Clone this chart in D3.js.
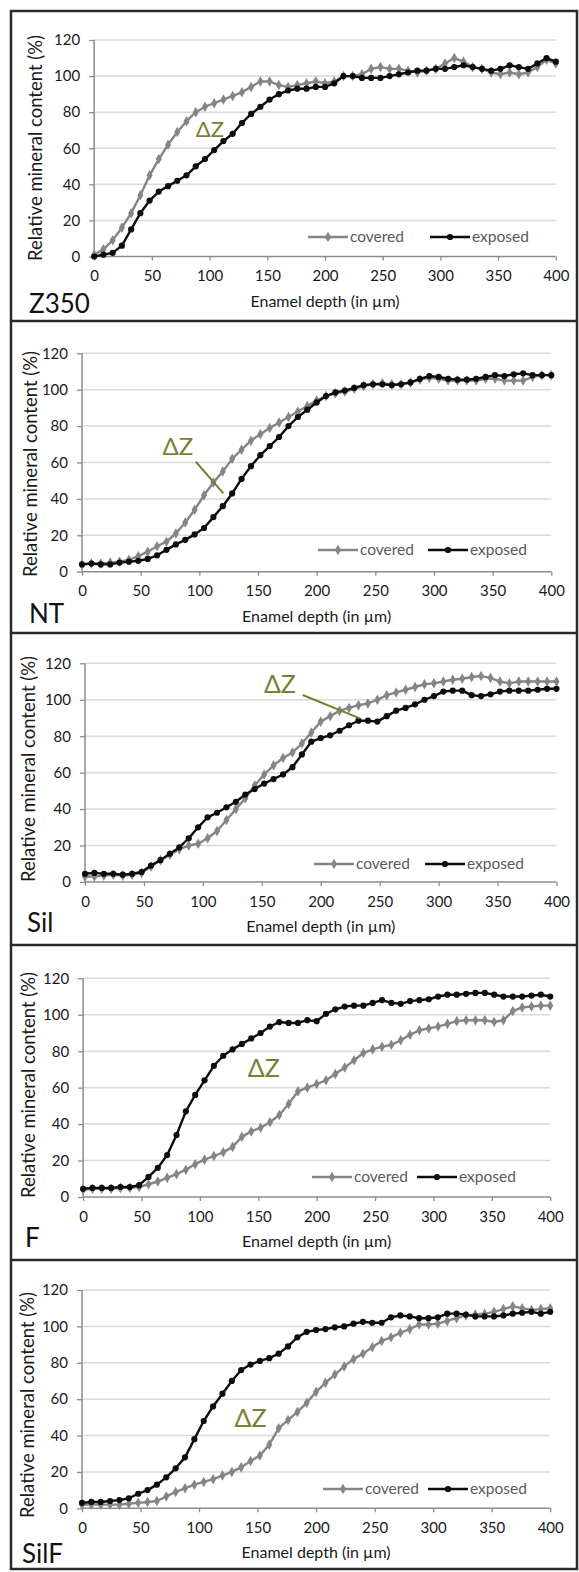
<!DOCTYPE html>
<html><head><meta charset="utf-8">
<script src="https://cdn.jsdelivr.net/npm/d3@7/dist/d3.min.js"></script>
<style>
body{margin:0;background:#fff}
svg{display:block}
text{font-family:Lato,"Open Sans",sans-serif}
</style>
</head><body>
<svg id="chart" width="579" height="1572"></svg>
<script>
// ---------- data ----------
const depth = [0,8,16,24,32,40,48,56,64,72,80,88,96,104,112,120,128,136,144,152,160,168,176,184,192,200,208,216,224,232,240,248,256,264,272,280,288,296,304,312,320,328,336,344,352,360,368,376,384,392,400];
const panelNames = ["Z350","NT","Sil","F","SilF"];
const seriesNames = ["covered","exposed"];
const xTicks = [0,50,100,150,200,250,300,350,400];
const yTicks = [0,20,40,60,80,100,120];
const xTitle = "Enamel depth (in µm)";
const yTitle = "Relative mineral content (%)";
const annotationText = "ΔZ";

const z350Covered = [1,4,9,16,24,34,45,54,62,69,75,80,83,85,87,89,91,94,97,97,95,94,95,96,97,96,97,100,100,101,104,105,104,104,103,102,103,104,107,110,108,105,104,102,101,102,101,102,105,109,107];
const z350Exposed = [0,1,2,6,15,24,31,36,39,42,45,50,54,59,64,68,74,79,83,87,90,92,93,93,94,94,96,100,100,99,99,99,100,101,102,103,103,104,104,105,106,105,104,103,104,106,105,104,107,110,108];

const ntCovered = [4,4.5,4.5,5,5.5,6.5,8.5,11,14,16.5,21,27,34,42,49,55,62,67,72,75.5,79,82,85,88,91,94,96.5,98,99,100.5,102,103,103.5,103,103,104,105.5,106.5,106,105,105,105,105,106,106,105,105,105,107,108,108];
const ntExposed = [4,4.5,4,4,5,5.5,6,7,9,12,15,17.5,20.5,24,30,36,43,51,58,64,69,74,80,85,89,93,96.5,98.5,99.5,101,102.5,103,103,102.5,103,104,106,107.5,107,106,105.5,105.5,106,107,108,107.5,108.5,109,108,108,108];

const silCovered = [3,3,3.5,4,3.5,4,5,8.5,12,15,18,20,21,24,28,34,40,46,53,59,64,68,71,76,82,88,91,94,95.5,97,98,100,102.5,104,105.5,107,108.5,109,110,111,111.5,112.5,113,112,110,109,110,110,110,110,110];
const silExposed = [4.5,5,4.5,4.5,4,4.5,5.5,9,12,15.5,19,24,30,35.5,38,41,44,48,51,54,56.5,59,63,70,77,79,80.5,83,86,88.5,88.5,88,91,94,95.5,97.5,100,102,104.5,105,105,102.5,102,103,104.5,105,105,105,105.5,106,106];

const fCovered = [4,4.5,4.5,4.5,5,5,5.5,7,8.5,10.5,12.5,15,18,20.5,22.5,24.5,27.5,33,36,38,41,45,51,58,60,62,64,67.5,71,75,79,81,82.5,83.5,86,89,91.5,92.5,93.5,95,96.5,97,97,97,96,97,102,104,104.5,105,105];
const fExposed = [4.5,5,5,5,5.5,5.5,6.5,11,16,23,34,47,56,64,72,77.5,81,84,87,90,93.5,96,95.5,95.5,97,96.5,100.5,103,104.5,105,105,106.5,108,106.5,106,107.5,108,108.5,110,111,111,111.5,112,112,111,110,110,110,110.5,111,110];

const silfCovered = [2,2,2,2,2,2.5,3,3.5,4,6.5,9,11,13,14.5,16,18,20,22.5,26,29,35,44,48.5,53,58,64,69,73.5,78,82,85,88.5,92,94,96.5,98.5,101,101,101.5,103,104.5,106,106.5,107,108,109.5,111,110,109,109.5,110];
const silfExposed = [3,3.5,3.5,4,4.5,5.5,8,10,13,17,22,28,38,48,56,63,70,76,79,81,82.5,85,89,94,97,98,98.5,99.5,100,101.5,102.5,102,102,105,106,105.5,104.5,104.5,105,107,107,106.5,105.5,105.5,105.5,106,107,107.5,108,107,108];

const panelSeries = [
  [z350Covered, z350Exposed],
  [ntCovered, ntExposed],
  [silCovered, silExposed],
  [fCovered, fExposed],
  [silfCovered, silfExposed]
];

// ---------- layout (positions only) ----------
const layout = [
  {top:11,  x0:94.2, x1:555.8, y0:256.5, y1:40,    yTitleX:36, yTitleY:148,  label:[29,313],  leg:{c:308,e:430,y:237},
   dz:{at:[88,66], size:22, line:null}},
  {top:321, x0:82,   x1:551.3, y0:571.7, y1:353.3, yTitleX:31, yTitleY:464,  label:[29,623],  leg:{c:318,e:428,y:550},
   dz:{at:[68.6,64], size:24, line:[[97,60.4],[120.5,43]]}},
  {top:633, x0:85,   x1:556.5, y0:882,   y1:663.3, yTitleX:29, yTitleY:769,  label:[27,932],  leg:{c:314,e:425,y:864},
   dz:{at:[151.8,103.7], size:25, line:[[184.7,102.6],[233.2,89.8]]}},
  {top:945, x0:83.1, x1:550.2, y0:1197,  y1:978.3, yTitleX:29, yTitleY:1085, label:[25,1247], leg:{c:312,e:417,y:1177},
   dz:{at:[141,66], size:25, line:null}},
  {top:1260,x0:82,   x1:550.2, y0:1508.3,y1:1290,  yTitleX:28, yTitleY:1405, label:[22,1563], leg:{c:323,e:428,y:1489},
   dz:{at:[130.3,44.7], size:25, line:null}}
];
const frame = {left:11, right:577, bottom:1569};
const colors = {covered:"#858585", exposed:"#0d0d0d", grid:"#dadada", axis:"#8c8c8c", text:"#1a1a1a", legendText:"#5a5a5a", dz:"#7d7d35", border:"#2a2a2a"};

const svg = d3.select("#chart");

panelSeries.forEach((series, i) => {
  const L = layout[i];
  const x = d3.scaleLinear().domain([0,400]).range([L.x0, L.x1]);
  const y = d3.scaleLinear().domain([0,120]).range([L.y0, L.y1]);
  const g = svg.append("g");

  // gridlines
  g.selectAll("line.grid").data(yTicks.filter(t => t > 0)).join("line")
    .attr("x1", L.x0).attr("x2", L.x1)
    .attr("y1", d => y(d)).attr("y2", d => y(d))
    .attr("stroke", colors.grid).attr("stroke-width", 1.5);

  // axes
  const yAxis = d3.axisLeft(y).tickValues(yTicks).tickSize(5).tickPadding(9);
  const xAxis = d3.axisBottom(x).tickValues(xTicks).tickSize(4).tickPadding(10);
  const ya = g.append("g").attr("transform", `translate(${L.x0},0)`).call(yAxis);
  const xa = g.append("g").attr("transform", `translate(0,${L.y0})`).call(xAxis);
  [ya, xa].forEach(a => {
    a.select(".domain").attr("stroke", colors.axis).attr("stroke-width", 1.5);
    a.selectAll(".tick line").attr("stroke", colors.axis).attr("stroke-width", 1.3);
    a.selectAll(".tick text").attr("fill", colors.text).style("font-size", "15px")
      .style("font-family", "Lato, sans-serif");
  });
  ya.select(".domain").attr("d", `M0,${L.y0}V${L.y1}`);
  xa.select(".domain").attr("d", `M${L.x0},0H${L.x1}`);

  // axis titles
  g.append("text").attr("x", (L.x0 + L.x1) / 2).attr("y", L.y0 + 50)
    .attr("text-anchor", "middle").attr("fill", colors.text).style("font-size", "16px").text(xTitle);
  g.append("text").attr("transform", `translate(${L.yTitleX + 6},${L.yTitleY}) rotate(-90)`)
    .attr("text-anchor", "middle").attr("fill", colors.text).style("font-size", "18.5px").text(yTitle);

  // series
  const line = d3.line().x((d, k) => x(depth[k])).y(d => y(d));
  seriesNames.forEach((name, s) => {
    const vals = series[s];
    const col = colors[name];
    g.append("path").datum(vals).attr("d", line).attr("fill", "none")
      .attr("stroke", col).attr("stroke-width", 2.4).attr("stroke-linejoin", "round");
    if (name === "covered") {
      g.selectAll(null).data(vals).join("path")
        .attr("d", d3.symbol(d3.symbolDiamond, 32))
        .attr("transform", (d, k) => `translate(${x(depth[k])},${y(d)})`)
        .attr("fill", col);
    } else {
      g.selectAll(null).data(vals).join("circle")
        .attr("cx", (d, k) => x(depth[k])).attr("cy", d => y(d)).attr("r", 3.1)
        .attr("fill", col);
    }
  });

  // legend
  seriesNames.forEach((name, s) => {
    const lx = s === 0 ? L.leg.c : L.leg.e;
    const col = colors[name];
    g.append("line").attr("x1", lx).attr("x2", lx + 40).attr("y1", L.leg.y).attr("y2", L.leg.y)
      .attr("stroke", col).attr("stroke-width", 2.4);
    if (name === "covered") {
      g.append("path").attr("d", d3.symbol(d3.symbolDiamond, 32)).attr("transform", `translate(${lx + 20},${L.leg.y})`).attr("fill", col);
    } else {
      g.append("circle").attr("cx", lx + 20).attr("cy", L.leg.y).attr("r", 3.1).attr("fill", col);
    }
    g.append("text").attr("x", lx + 42).attr("y", L.leg.y + 5).attr("fill", colors.legendText)
      .style("font-size", "15.5px").text(name);
  });

  // ΔZ annotation
  g.append("text").attr("x", x(L.dz.at[0])).attr("y", y(L.dz.at[1]))
    .attr("fill", colors.dz).style("font-size", L.dz.size + "px").text(annotationText);
  if (L.dz.line) {
    g.append("line")
      .attr("x1", x(L.dz.line[0][0])).attr("y1", y(L.dz.line[0][1]))
      .attr("x2", x(L.dz.line[1][0])).attr("y2", y(L.dz.line[1][1]))
      .attr("stroke", colors.dz).attr("stroke-width", 2);
  }

  // panel label
  g.append("text").attr("x", L.label[0]).attr("y", L.label[1]).attr("fill", "#111")
    .style("font-size", "26px").text(panelNames[i]);
});

// frame and dividers
svg.append("rect").attr("x", frame.left).attr("y", layout[0].top)
  .attr("width", frame.right - frame.left).attr("height", frame.bottom - layout[0].top)
  .attr("fill", "none").attr("stroke", colors.border).attr("stroke-width", 2.5);
svg.selectAll("line.div").data(layout.slice(1)).join("line")
  .attr("x1", frame.left).attr("x2", frame.right)
  .attr("y1", d => d.top).attr("y2", d => d.top)
  .attr("stroke", colors.border).attr("stroke-width", 2.5);
</script>
</body></html>
